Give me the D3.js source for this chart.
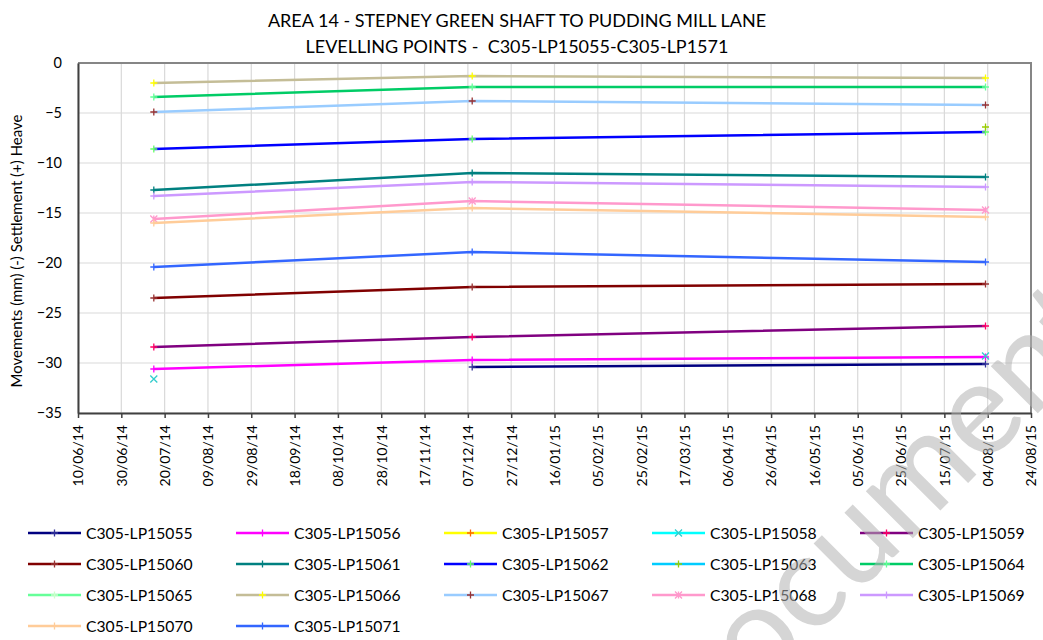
<!DOCTYPE html>
<html>
<head>
<meta charset="utf-8">
<script src="https://cdn.jsdelivr.net/npm/d3@7"></script>
<style>
  body { margin: 0; background: #fff; }
  svg { display: block; font-family: Lato, "Open Sans", sans-serif; }
</style>
</head>
<body>
<svg id="chart" width="1043" height="640"></svg>
<script>
'use strict';

// survey dates (three readings)
var readDates = ['2014-07-15', '2014-12-09', '2015-08-03'];

var seriesNames = [
    'C305-LP15055', 'C305-LP15056', 'C305-LP15057', 'C305-LP15058', 'C305-LP15059',
    'C305-LP15060', 'C305-LP15061', 'C305-LP15062', 'C305-LP15063', 'C305-LP15064',
    'C305-LP15065', 'C305-LP15066', 'C305-LP15067', 'C305-LP15068', 'C305-LP15069',
    'C305-LP15070', 'C305-LP15071'
];

// movements (mm) per reading, null = no reading
var lp15055 = [null, -30.4, -30.1];
var lp15056 = [-30.6, -29.7, -29.4];
var lp15057 = [null, null, null];
var lp15058 = [-31.6, null, -29.3];
var lp15059 = [-28.4, -27.4, -26.3];
var lp15060 = [-23.5, -22.4, -22.1];
var lp15061 = [-12.7, -11.0, -11.4];
var lp15062 = [-8.6, -7.6, -6.9];
var lp15063 = [null, null, -6.4];
var lp15064 = [-3.4, -2.4, -2.4];
var lp15065 = [null, null, null];
var lp15066 = [-2.0, -1.3, -1.5];
var lp15067 = [-4.9, -3.8, -4.2];
var lp15068 = [-15.6, -13.8, -14.7];
var lp15069 = [-13.3, -11.9, -12.4];
var lp15070 = [-16.0, -14.5, -15.4];
var lp15071 = [-20.4, -18.9, -19.9];

var seriesValues = [lp15055, lp15056, lp15057, lp15058, lp15059, lp15060, lp15061, lp15062,
    lp15063, lp15064, lp15065, lp15066, lp15067, lp15068, lp15069, lp15070, lp15071];

var lineColors = ['#000080', '#ff00ff', '#ffff00', '#00ffff', '#800080', '#800000', '#008080', '#0000ff',
    '#00ccff', '#00cc66', '#66ff99', '#c4bd97', '#99ccff', '#ff99cc', '#cc99ff', '#ffcc99', '#3366ff'];
var markerColors = ['#333399', '#ff00ff', '#ff6600', '#33cccc', '#ff0066', '#993333', '#008080', '#66ff66',
    '#99cc00', '#66ff99', '#ccffcc', '#ffff00', '#993333', '#ff99cc', '#cc99ff', '#ffcc99', '#3366ff'];
var markerShapes = ['plus', 'plus', 'plus', 'cross', 'plus', 'plus', 'plus', 'plus',
    'plus', 'plus', 'plus', 'plus', 'plus', 'star', 'plus', 'plus', 'plus'];

var xTickStart = '2014-06-10';
var xTickEnd = '2015-08-24';
var xTickStepDays = 20;
var yTicks = [0, -5, -10, -15, -20, -25, -30, -35];

var titleLines = ['AREA 14 - STEPNEY GREEN SHAFT TO PUDDING MILL LANE',
    'LEVELLING POINTS -  C305-LP15055-C305-LP1571'];
var yTitle = 'Movements (mm) (-) Settlement (+) Heave';

var parse = d3.timeParse('%Y-%m-%d');
var fmt = d3.timeFormat('%d/%m/%y');

var svg = d3.select('#chart');
var plotLeft = 78, plotRight = 1031, plotTop = 63, plotBottom = 413;

var x = d3.scaleTime().domain([parse(xTickStart), parse(xTickEnd)]).range([plotLeft, plotRight]);
var y = d3.scaleLinear().domain([-35, 0]).range([plotBottom, plotTop]);

var xTicks = [];
for (var t = parse(xTickStart); t <= parse(xTickEnd); t = d3.timeDay.offset(t, xTickStepDays)) xTicks.push(t);

// title
svg.selectAll('text.title').data(titleLines).enter()
    .append('text')
    .attr('class', 'title')
    .attr('x', 517)
    .attr('y', function(d, i) { return 27 + i * 26; })
    .attr('text-anchor', 'middle')
    .style('font-size', '18px')
    .style('white-space', 'pre')
    .style('fill', '#000')
    .text(function(d) { return d; });

// grid
var grid = svg.append('g');
grid.selectAll('line.gx').data(xTicks).enter()
    .append('line')
    .attr('x1', function(d) { return x(d); })
    .attr('x2', function(d) { return x(d); })
    .attr('y1', plotTop).attr('y2', plotBottom)
    .style('stroke', '#d9d9d9').style('stroke-width', 1.2);
grid.selectAll('line.gy').data(yTicks).enter()
    .append('line')
    .attr('x1', plotLeft).attr('x2', plotRight)
    .attr('y1', function(d) { return y(d); })
    .attr('y2', function(d) { return y(d); })
    .style('stroke', '#d9d9d9').style('stroke-width', 1.2);

// frame (top + right)
svg.append('path')
    .attr('d', 'M' + plotLeft + ',' + plotTop + 'H' + plotRight + 'V' + plotBottom)
    .style('fill', 'none').style('stroke', '#868686').style('stroke-width', 2);

// axes
var yAxis = d3.axisLeft(y).tickValues(yTicks).tickSize(0).tickPadding(16);
var gy = svg.append('g').attr('transform', 'translate(' + plotLeft + ',0)').call(yAxis);
gy.select('.domain').style('stroke', '#404040').style('stroke-width', 2);
gy.selectAll('text').style('font-size', '14.5px').style('fill', '#000').style('font-family', 'Lato, sans-serif');

var xAxis = d3.axisBottom(x).tickValues(xTicks).tickFormat(fmt).tickSize(5).tickSizeOuter(0);
var gx = svg.append('g').attr('transform', 'translate(0,' + plotBottom + ')').call(xAxis);
gx.select('.domain').style('stroke', '#404040').style('stroke-width', 2);
gx.selectAll('.tick line').style('stroke', '#404040').style('stroke-width', 1.5);
gx.selectAll('text')
    .style('font-size', '14px').style('fill', '#000').style('font-family', 'Lato, sans-serif')
    .attr('text-anchor', 'end')
    .attr('transform', 'rotate(-90)')
    .attr('x', -12).attr('y', 0).attr('dy', '0.35em');

svg.append('text')
    .attr('transform', 'translate(22,251) rotate(-90)')
    .attr('text-anchor', 'middle')
    .style('font-size', '15px')
    .text(yTitle);

// series
var series = seriesNames.map(function(name, i) {
    return {
        name: name, color: lineColors[i], marker: markerColors[i], shape: markerShapes[i],
        points: readDates.map(function(d, j) { return {date: parse(d), value: seriesValues[i][j]}; })
    };
});

var line = d3.line()
    .defined(function(d) { return d.value !== null; })
    .x(function(d) { return x(d.date); })
    .y(function(d) { return y(d.value); });

function markerPath(shape) {
    var s = 3.5;
    if (shape === 'cross') return 'M' + -s + ',' + -s + 'L' + s + ',' + s + 'M' + -s + ',' + s + 'L' + s + ',' + -s;
    if (shape === 'star') return 'M' + -s + ',' + -s + 'L' + s + ',' + s + 'M' + -s + ',' + s + 'L' + s + ',' + -s + 'M0,' + -s + 'V' + s;
    return 'M' + -s + ',0H' + s + 'M0,' + -s + 'V' + s;
}

var sg = svg.append('g').selectAll('g').data(series).enter().append('g');
sg.append('path')
    .attr('d', function(d) { return line(d.points); })
    .style('fill', 'none')
    .style('stroke', function(d) { return d.color; })
    .style('stroke-width', 2.5);
sg.each(function(s) {
    d3.select(this).selectAll('path.mk')
        .data(s.points.filter(function(p) { return p.value !== null; }))
        .enter().append('path')
        .attr('class', 'mk')
        .attr('transform', function(p) { return 'translate(' + x(p.date) + ',' + y(p.value) + ')'; })
        .attr('d', markerPath(s.shape))
        .style('stroke', s.marker)
        .style('stroke-width', 1.3)
        .style('fill', 'none');
});

// legend
var lg = svg.append('g').selectAll('g').data(series).enter().append('g')
    .attr('transform', function(d, i) {
        return 'translate(' + (28 + (i % 5) * 208) + ',' + (533 + Math.floor(i / 5) * 31) + ')';
    });
lg.append('line')
    .attr('x1', 0).attr('x2', 53)
    .style('stroke', function(d) { return d.color; })
    .style('stroke-width', 2.5);
lg.append('path')
    .attr('transform', 'translate(26.5,0)')
    .attr('d', function(d) { return markerPath(d.shape); })
    .style('stroke', function(d) { return d.marker; })
    .style('stroke-width', 1.3)
    .style('fill', 'none');
lg.append('text')
    .attr('x', 58)
    .attr('dy', '0.35em')
    .style('font-size', '15.7px')
    .text(function(d) { return d.name; });

// watermark
svg.append('text')
    .attr('transform', 'translate(688,763) rotate(-45)')
    .style('font-size', '131px')
    .style('fill', '#b3b3b3')
    .style('opacity', 0.55)
    .text('Document');
</script>
</body>
</html>
